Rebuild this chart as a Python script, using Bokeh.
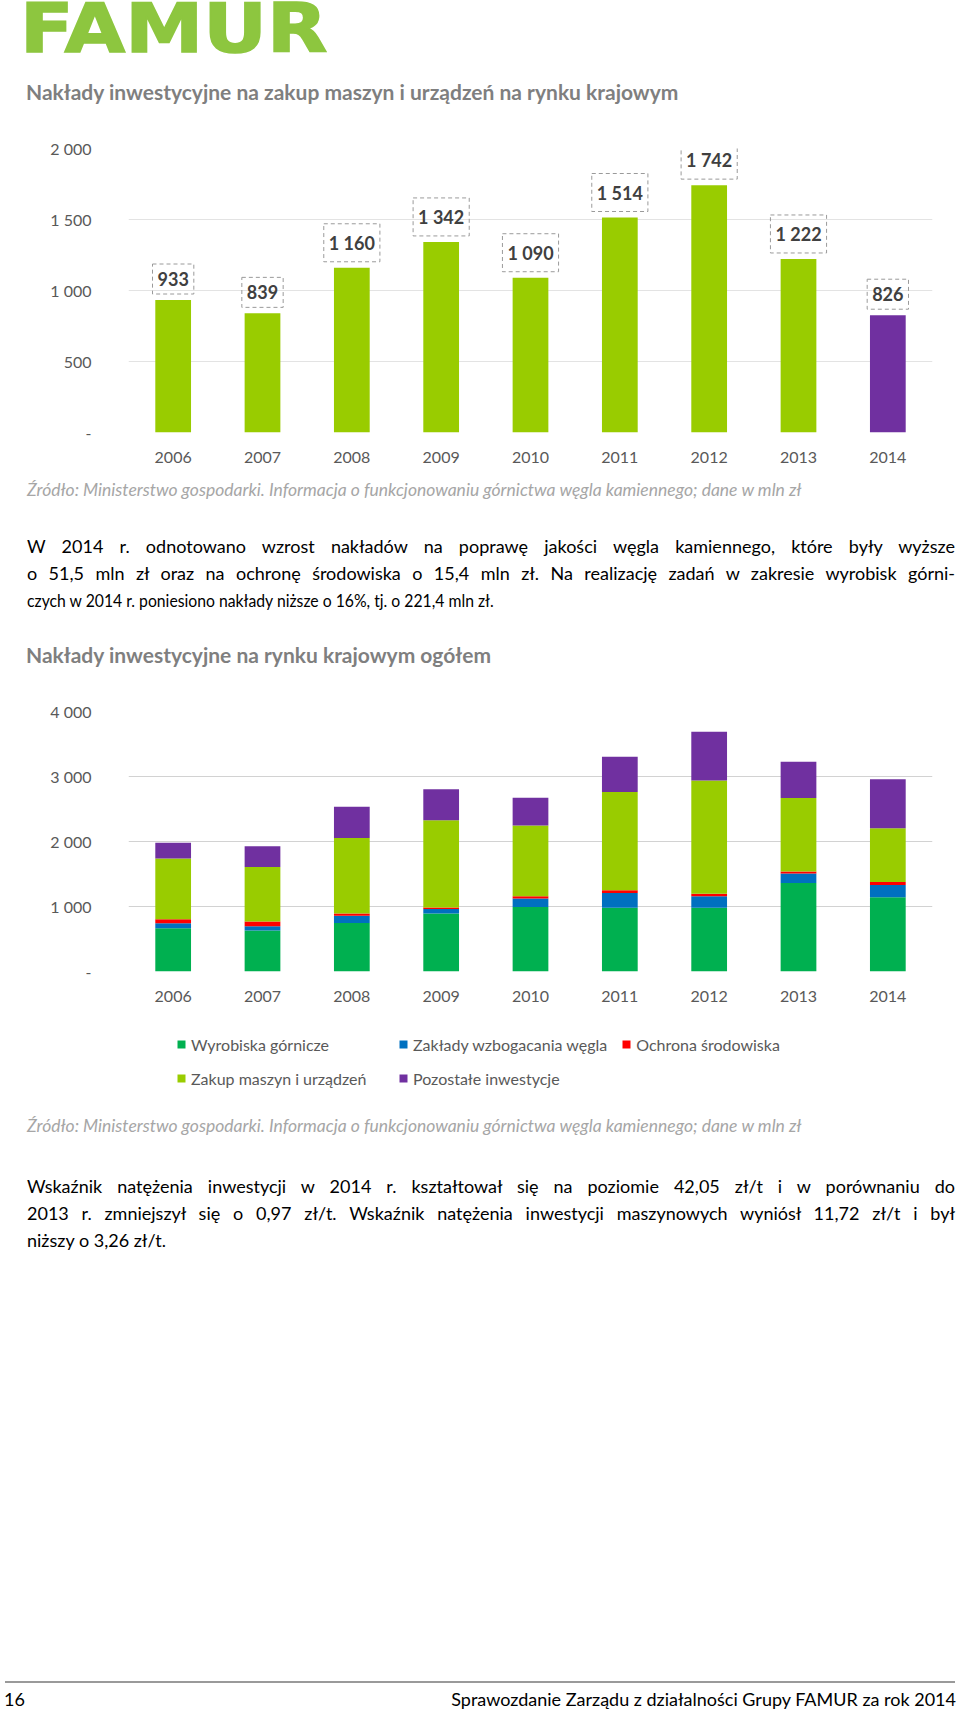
from bokeh.plotting import figure
from bokeh.models import (ColumnDataSource, FactorRange, Range1d, SingleIntervalTicker,
                          CustomJSTickFormatter, Label, Legend, LegendItem, Div)
from bokeh.layouts import column
from bokeh.embed import file_html
from bokeh.resources import INLINE

# ---------------- data ----------------
years = ["2006", "2007", "2008", "2009", "2010", "2011", "2012", "2013", "2014"]

# chart 1: Nakłady inwestycyjne na zakup maszyn i urządzeń (mln zł)
machines_domestic = [933, 839, 1160, 1342, 1090, 1514, 1742, 1222, 826]

# chart 2: Nakłady inwestycyjne na rynku krajowym ogółem (mln zł), stacked
series_keys = ["wyrobiska", "zaklady", "ochrona", "zakup", "pozostale"]
series_names = ["Wyrobiska górnicze", "Zakłady wzbogacania węgla", "Ochrona środowiska",
                "Zakup maszyn i urządzeń", "Pozostałe inwestycje"]
wyrobiska = [666, 630, 748, 893, 991, 981, 981, 1363, 1141]
zaklady = [77, 67, 109, 67, 134, 227, 175, 144, 191]
ochrona = [62, 72, 36, 26, 31, 41, 41, 31, 46]
zakup = [933, 839, 1160, 1342, 1090, 1514, 1742, 1130, 826]
pozostale = [243, 320, 480, 475, 429, 542, 748, 558, 754]

y1_max, y1_step = 2000, 500
y2_max, y2_step = 4000, 1000

# ---------------- texts ----------------
logo_text = "FAMUR"
title1 = "Nakłady inwestycyjne na zakup maszyn i urządzeń na rynku krajowym"
source_text = ("Źródło: Ministerstwo gospodarki. Informacja o funkcjonowaniu górnictwa węgla "
               "kamiennego; dane w mln zł")
para1 = [
    "W 2014 r. odnotowano wzrost nakładów na poprawę jakości węgla kamiennego, które były wyższe",
    "o 51,5 mln zł oraz na ochronę środowiska o 15,4 mln zł. Na realizację zadań w zakresie wyrobisk górni-",
    "czych w 2014 r. poniesiono nakłady niższe o 16%, tj. o 221,4 mln zł.",
]
title2 = "Nakłady inwestycyjne na rynku krajowym ogółem"
para2 = [
    "Wskaźnik natężenia inwestycji w 2014 r. kształtował się na poziomie 42,05 zł/t i w porównaniu do",
    "2013 r. zmniejszył się o 0,97 zł/t. Wskaźnik natężenia inwestycji maszynowych wyniósł 11,72 zł/t i był",
    "niższy o 3,26 zł/t.",
]
footer_page = "16"
footer_title = "Sprawozdanie Zarządu z działalności Grupy FAMUR za rok 2014"

# ---------------- styles ----------------
W = 960
FONT = "Lato"
LIME = "#99cc00"
PURPLE = "#7030a0"
stack_colors = ["#00b050", "#0070c0", "#ff0000", LIME, PURPLE]
TICK_COLOR = "#595959"

TICK_JS = r"""
if (tick == 0) { return "-"; }
return Math.round(tick).toString().replace(/\B(?=(\d{3})+(?!\d))/g, " ");
"""


def fmt_num(v):
    return f"{v:,}".replace(",", " ")


def style_axes(p, step, grid_color):
    t = SingleIntervalTicker(interval=step, num_minor_ticks=0)
    p.yaxis.ticker = t
    p.ygrid.ticker = t
    p.yaxis.formatter = CustomJSTickFormatter(code=TICK_JS)
    for ax in (p.xaxis[0], p.yaxis[0]):
        ax.axis_line_color = None
        ax.major_tick_line_color = None
        ax.minor_tick_line_color = None
        ax.major_tick_out = 0
        ax.major_tick_in = 0
        ax.major_label_text_font = FONT
        ax.major_label_text_font_size = "16px"
        ax.major_label_text_color = TICK_COLOR
    p.xaxis.major_label_standoff = 19
    p.yaxis.major_label_standoff = 37
    p.xgrid.grid_line_color = None
    p.ygrid.grid_line_color = grid_color
    p.outline_line_color = None


def set_padding(obj):
    for pad in (dict(left=5, right=5, top=8, bottom=8), (5, 8), 7):
        try:
            obj.padding = pad
            return
        except Exception:
            continue


# ---------------- chart 1 ----------------
p1 = figure(width=W, height=350, x_range=FactorRange(factors=years),
            y_range=Range1d(0, y1_max), output_backend="svg", toolbar_location=None,
            min_border_left=128, min_border_right=28, min_border_top=23, min_border_bottom=43)
src1 = ColumnDataSource(dict(
    year=years,
    value=machines_domestic,
    color=[PURPLE if y == years[-1] else LIME for y in years],
))
p1.vbar(x="year", top="value", width=0.4, source=src1, fill_color="color", line_color=None)
style_axes(p1, y1_step, "#e3e3e3")

# data labels in dashed boxes (x given as the category's position on the factor range)
for i, v in enumerate(machines_domestic):
    lab = Label(x=i + 0.5, y=v, text=fmt_num(v), text_align="center", text_baseline="bottom",
                y_offset=6, text_font=FONT, text_font_size="18px", text_font_style="bold",
                text_color="#404040", border_line_color="#9a9a9a", border_line_dash="4 3",
                border_line_width=1)
    set_padding(lab)
    p1.add_layout(lab)

# ---------------- chart 2 ----------------
p2 = figure(width=W, height=350, x_range=FactorRange(factors=years),
            y_range=Range1d(0, y2_max), output_backend="svg", toolbar_location=None,
            min_border_left=121, min_border_right=28, min_border_top=31, min_border_bottom=59)
src2 = ColumnDataSource(dict(year=years, wyrobiska=wyrobiska, zaklady=zaklady, ochrona=ochrona,
                             zakup=zakup, pozostale=pozostale))
renderers = p2.vbar_stack(series_keys, x="year", width=0.4, fill_color=stack_colors,
                          line_color=None, source=src2)
style_axes(p2, y2_step, "#d2d2d2")

# ---------------- legend strip for chart 2 ----------------
# legend keys only: same series with zero-width bars outside the strip's value window
p3 = figure(width=W, height=70, x_range=p2.x_range, y_range=Range1d(-20000, -10000),
            x_axis_location=None, y_axis_location=None, output_backend="svg",
            toolbar_location=None, min_border=0, outline_line_color=None)
p3.grid.visible = False
keys3 = p3.vbar_stack(series_keys, x="year", width=0, fill_color=stack_colors,
                      line_color=None, source=src2)
legend = Legend(items=[LegendItem(label=n, renderers=[r]) for n, r in zip(series_names, keys3)],
                location=(48, 12), orientation="horizontal",
                border_line_color=None, background_fill_alpha=0, padding=0, margin=0,
                spacing=14, glyph_width=10, glyph_height=10, label_standoff=5,
                label_text_font=FONT, label_text_font_size="16px", label_text_color=TICK_COLOR,
                label_height=20, label_width=193)
try:
    legend.ncols = 3
except Exception:
    pass
p3.add_layout(legend)

# ---------------- text blocks ----------------
BASE = "position:absolute;white-space:nowrap;"


def para_html(lines, top, condensed=None, left=27, width=928):
    out = [f'<div style="position:absolute;left:{left}px;top:{top}px;width:{width}px;'
           f'font-size:18px;line-height:27px;color:#000;">']
    for i, ln in enumerate(lines):
        extra = ""
        if condensed and i in condensed:
            extra = f"transform:scaleX({condensed[i]});transform-origin:left top;white-space:nowrap;"
        if i < len(lines) - 1:
            out.append(f'<div style="text-align:justify;text-align-last:justify;{extra}">{ln}</div>')
        else:
            out.append(f'<div style="text-align:left;{extra}">{ln}</div>')
    out.append('</div>')
    return "".join(out)


header_html = (
    f'<div style="position:relative;width:{W}px;height:125px;font-family:{FONT},sans-serif;">'
    f'<div style="{BASE}left:20px;top:0px;font-family:\'DejaVu Sans\',sans-serif;font-weight:bold;'
    f'font-size:67px;line-height:58px;color:#8dc63f;transform:scaleX(1.17);transform-origin:left top;'
    f'-webkit-text-stroke:1.5px #8dc63f;">{logo_text}</div>'
    f'<div style="{BASE}left:26px;top:79px;font-size:21px;line-height:25px;font-weight:bold;'
    f'color:#7f7f7f;">{title1}</div>'
    '</div>'
)

mid_html = (
    f'<div style="position:relative;width:{W}px;height:205px;font-family:{FONT},sans-serif;">'
    f'<div style="{BASE}left:27px;top:4px;font-size:17.5px;line-height:21px;font-style:italic;'
    f'color:#a6a6a6;">{source_text}</div>'
    + para_html(para1, 58, condensed={2: 0.875}) +
    f'<div style="{BASE}left:26px;top:167px;font-size:21px;line-height:25px;font-weight:bold;'
    f'color:#7f7f7f;">{title2}</div>'
    '</div>'
)

bottom_html = (
    f'<div style="position:relative;width:{W}px;height:616px;font-family:{FONT},sans-serif;">'
    f'<div style="{BASE}left:27px;top:15px;font-size:17.5px;line-height:21px;font-style:italic;'
    f'color:#a6a6a6;">{source_text}</div>'
    + para_html(para2, 73) +
    '<div style="position:absolute;left:5px;top:581px;width:950px;height:2px;background:#9a9a9a;"></div>'
    f'<div style="{BASE}left:4px;top:588px;font-size:18px;line-height:22px;color:#000;">{footer_page}</div>'
    f'<div style="{BASE}right:4px;top:588px;font-size:18px;line-height:22px;color:#000;">{footer_title}</div>'
    '</div>'
)

div_header = Div(text=header_html, width=W, height=125, margin=0)
div_mid = Div(text=mid_html, width=W, height=205, margin=0)
div_bottom = Div(text=bottom_html, width=W, height=616, margin=0)

layout = column(div_header, p1, div_mid, p2, p3, div_bottom, spacing=0)

with open("out.html", "w", encoding="utf-8") as f:
    f.write(file_html(layout, INLINE))
